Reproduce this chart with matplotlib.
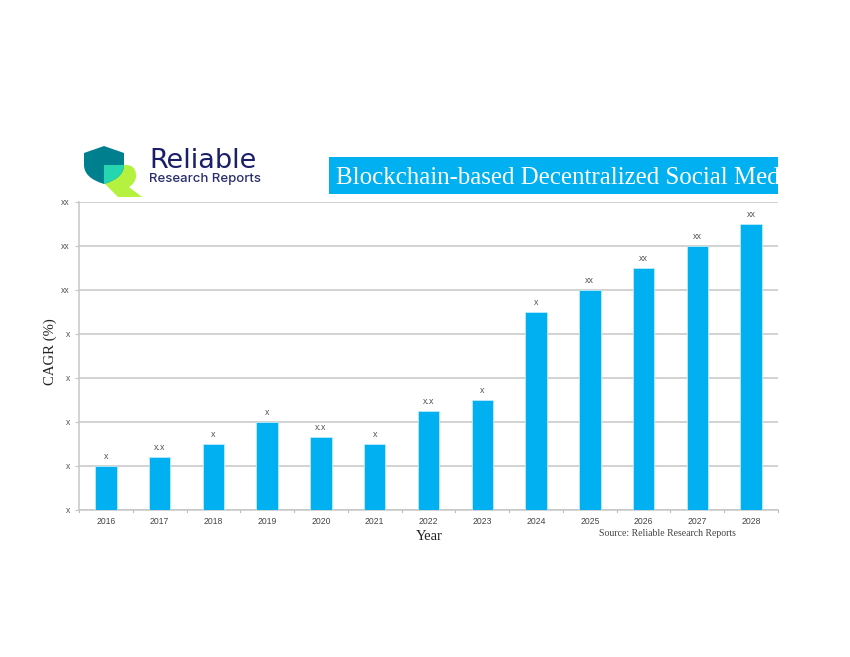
import matplotlib
matplotlib.use('Agg')
import matplotlib.pyplot as plt
from matplotlib.patches import Rectangle, PathPatch
from matplotlib.path import Path

years = ['2016','2017','2018','2019','2020','2021','2022','2023','2024','2025','2026','2027','2028']
values = [1.0,1.2,1.5,2.0,1.65,1.5,2.25,2.5,4.5,5.0,5.5,6.0,6.5]
bar_labels = ['x','x.x','x','x','x.x','x','x.x','x','x','xx','xx','xx','xx']
y_labels = ['x','x','x','x','x','xx','xx','xx']
title = 'Blockchain-based Decentralized Social Med'
W, H = 850, 657
BLUE = '#00B0F0'
GRID = '#C6C6C6'
SANS = 'Liberation Sans'
SERIF = 'Liberation Serif'

fig = plt.figure(figsize=(W/100, H/100), dpi=100, facecolor='white')

ax = fig.add_axes([79/W, 1-509.6/H, (778-79)/W, 308/H])
x = list(range(len(years)))
ax.bar(x, values, width=0.4, color=BLUE, edgecolor='#BDEBFB', linewidth=0.6, zorder=3)
ax.set_xlim(-0.5, len(years)-0.5)
ax.set_ylim(0, 7)
ax.set_yticks(range(8))
ax.set_yticklabels(y_labels, fontsize=6.2, color='#555555', family=SANS)
ax.set_xticks(x)
ax.set_xticklabels(years, fontsize=6.2, color='#444444', family=SANS)
ax.grid(axis='y', color=GRID, linewidth=1.1, zorder=1)
for s in ['top','right']:
    ax.spines[s].set_visible(False)
for s in ['left','bottom']:
    ax.spines[s].set_color(GRID)
    ax.spines[s].set_linewidth(1.1)
ax.tick_params(axis='y', length=3, color=GRID, pad=3.5)
ax.tick_params(axis='x', length=0, pad=5)
for b in range(len(years)+1):
    ax.plot([b-0.5, b-0.5], [0, -0.05], color='#BBBBBB', lw=0.8, clip_on=False, zorder=2)
for xi, v, t in zip(x, values, bar_labels):
    ax.annotate(t, (xi, v), xytext=(0, 3.5), textcoords='offset points', ha='center', va='bottom',
                fontsize=6.4, color='#555555', family=SANS)

ov = fig.add_axes([0, 0, 1, 1], facecolor='none', zorder=5)
ov.set_xlim(0, W); ov.set_ylim(H, 0); ov.axis('off')

ov.text(50, 351.5, 'CAGR (%)', rotation=90, ha='center', va='center', fontsize=10.6, family=SERIF, color='#222222')
ov.text(429, 536, 'Year', ha='center', va='center', fontsize=10.5, family=SERIF, color='#222222')
ov.text(667, 533, 'Source: Reliable Research Reports', ha='center', va='center', fontsize=7.05, family=SERIF, color='#444444')

banner = Rectangle((329, 157), 449, 37, facecolor=BLUE, edgecolor='none')
ov.add_patch(banner)
t = ov.text(336, 177.5, title, ha='left', va='center', fontsize=17.95, family=SERIF, color='white')
t.set_clip_path(banner)

# logo
C3, L, M, Z = Path.CURVE3, Path.LINETO, Path.MOVETO, Path.CLOSEPOLY
green = Path([(105,184),(118,197),(142,197),(129,187),(137,182),(136,174),(135,165),(126,165),(124,165),(105,184)],
             [M,L,L,L,C3,C3,C3,C3,L,Z])
ov.add_patch(PathPatch(green, facecolor='#B5F23F', edgecolor='none'))
shield = Path([(84,153),(104,146),(124,153),(124,165),(124,178),(104,184),(84,178),(84,165),(84,153),(84,153)],
              [M,L,L,L,C3,C3,C3,C3,L,Z])
ov.add_patch(PathPatch(shield, facecolor='#007F8F', edgecolor='none'))
mint = Path([(104,165),(124,165),(124,178),(104,184),(104,165)],[M,L,C3,C3,Z])
ov.add_patch(PathPatch(mint, facecolor='#25D6AE', edgecolor='none'))
ov.text(149, 161.5, 'Reliable', ha='left', va='center', fontsize=19.5, family='DejaVu Sans', color='#1B1F6B')
ov.text(149, 179, 'Research Reports', ha='left', va='center', fontsize=9.5, family='Inter', weight='medium', color='#2A2E6E')

fig.savefig('out.png', dpi=100, facecolor='white')
